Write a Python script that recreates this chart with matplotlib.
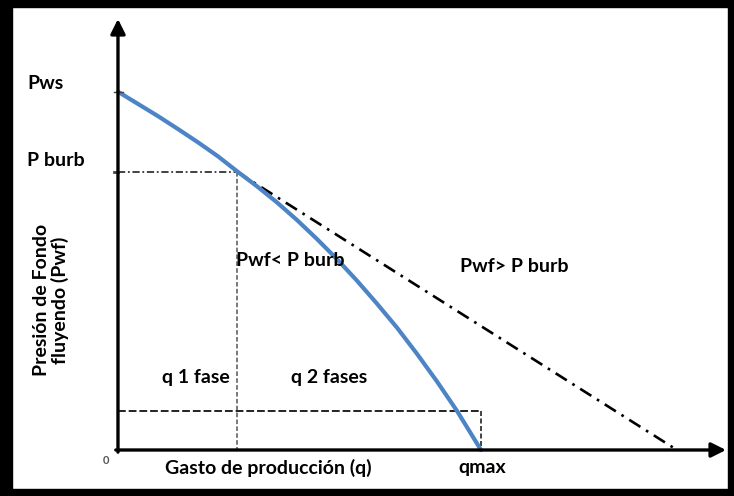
import matplotlib
matplotlib.use('Agg')
import matplotlib.pyplot as plt
from matplotlib.patches import Rectangle

plt.rcParams['font.family'] = ['Lato', 'DejaVu Sans']
plt.rcParams['font.weight'] = 'bold'

# curva IPR (Vogel)
q_curve = [0, 5.5, 11.0, 16.5, 22.0, 27.5, 32.8, 38.3, 43.8, 49.3, 54.8, 60.3,
           65.8, 71.3, 76.9, 82.4, 87.9, 93.4, 100]
p_curve = [100, 96.6, 93.2, 89.6, 85.9, 82.0, 77.8, 73.6, 69.1, 64.2, 58.9, 53.3,
           47.3, 40.9, 34.1, 26.8, 19.1, 10.9, 0]

pws = 100
pb = 77.7
qb = 32.7
qmax = 100
q_recta = 154      # corte de la recta IP con el eje q
p_bajo = 10.9      # linea punteada inferior

fig = plt.figure(figsize=(7.34, 4.96), dpi=100)
ax = fig.add_axes([0, 0, 1, 1])
ax.set_xlim(-32.5, 169.7)
ax.set_ylim(-12.84, 125.6)
ax.axis('off')

# ejes con flechas
ax.annotate('', xy=(167.5, 0), xytext=(-0.6, 0),
            arrowprops=dict(arrowstyle='-|>', lw=2.4, color='black', mutation_scale=22, shrinkA=0, shrinkB=0))
ax.annotate('', xy=(0, 120.3), xytext=(0, -0.6),
            arrowprops=dict(arrowstyle='-|>', lw=2.4, color='black', mutation_scale=22, shrinkA=0, shrinkB=0))

# lineas de referencia
ax.plot([0, qb], [pb, pb], color='#333333', lw=1.3, ls=(0, (4, 1.5, 1, 1.5)))
ax.plot([qb, qb], [pb, 0], color='#555555', lw=1.1, ls=(0, (3, 1.5)))
ax.plot([0, qmax], [p_bajo, p_bajo], color='#222222', lw=1.4, ls=(0, (4, 1.5)))
ax.plot([qmax, qmax], [p_bajo, 0], color='#222222', lw=1.2, ls=(0, (3, 1.5)))
ax.plot([qb, q_recta], [pb, 0], color='black', lw=1.9, ls=(0, (5, 2.5, 1, 2.5)))

# curva IPR
ax.plot(q_curve, p_curve, color='#4d84c6', lw=3.0, solid_capstyle='round', solid_joinstyle='round')
ax.plot([-1.2, 1.5], [pws, pws], color='#444444', lw=1.0)
ax.plot([-1.2, 0], [pb, pb], color='#444444', lw=2.0)

fs = 14
ax.text(-25, 102.3, 'Pws', fontsize=fs, ha='left', va='center')
ax.text(-25, 80.8, 'P burb', fontsize=fs, ha='left', va='center')
ax.text(-18.5, 41.9, 'Presión de Fondo\nfluyendo (Pwf)', fontsize=fs, ha='center', va='center',
        rotation=90, linespacing=1.1)
ax.text(-3.3, -3.0, '0', fontsize=8, color='#555555', ha='center', va='center')
ax.text(41.3, -5.0, 'Gasto de producción (q)', fontsize=fs, ha='center', va='center')
ax.text(100.3, -5.0, 'qmax', fontsize=fs, ha='center', va='center')
ax.text(21.5, 20.1, 'q 1 fase', fontsize=fs, ha='center', va='center')
ax.text(58.3, 20.1, 'q 2 fases', fontsize=fs, ha='center', va='center')
ax.text(47.5, 53.0, 'Pwf< P burb', fontsize=fs, ha='center', va='center')
ax.text(109.3, 51.3, 'Pwf> P burb', fontsize=fs, ha='center', va='center')

# marco negro
W, H = 734, 496
fig.patches.append(Rectangle((0, 0), 12 / W, 1, transform=fig.transFigure, color='black'))
fig.patches.append(Rectangle((0, 1 - 7 / H), 1, 7 / H, transform=fig.transFigure, color='black'))
fig.patches.append(Rectangle((0, 0), 1, 7 / H, transform=fig.transFigure, color='black'))
fig.patches.append(Rectangle((1 - 6 / W, 0), 6 / W, 1, transform=fig.transFigure, color='black'))

fig.savefig('out.png', dpi=100)
